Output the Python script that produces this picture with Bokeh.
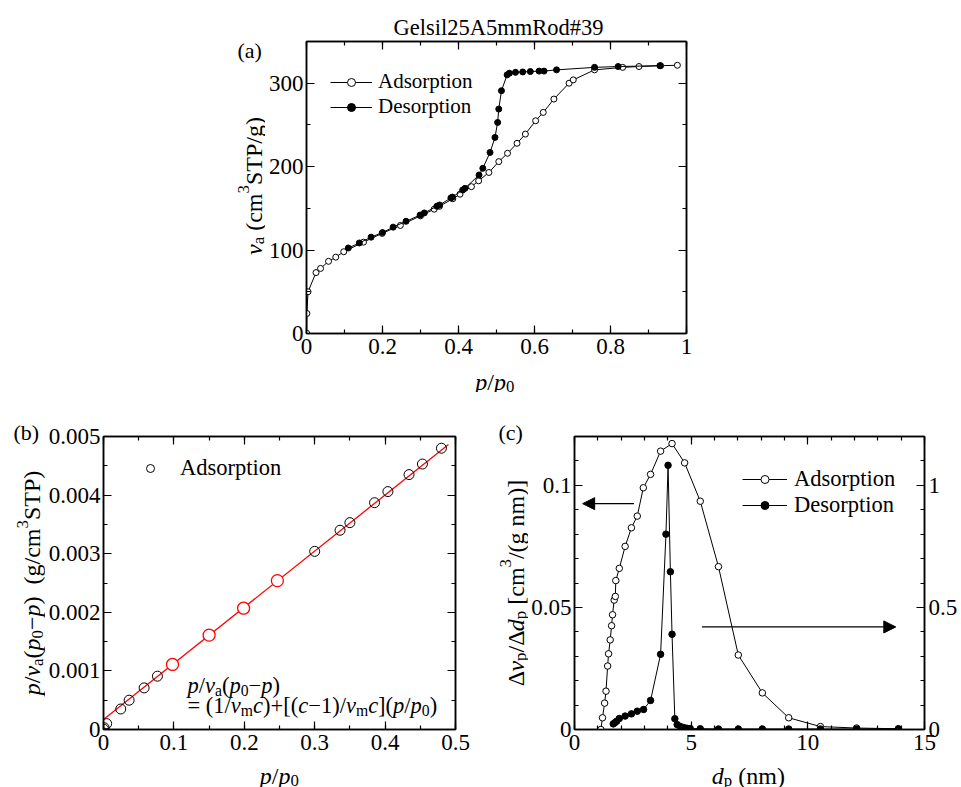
import numpy as np
from math import pi
from bokeh.plotting import figure
from bokeh.models import (Range1d, LinearAxis, SingleIntervalTicker, CustomJSTickFormatter,
                          Label, Legend, LegendItem, Arrow, NormalHead)
from bokeh.core.properties import value
from bokeh.layouts import column, row
from bokeh.embed import file_html
from bokeh.resources import INLINE

FONT = "Liberation Serif"

# ---------------- (a) isotherm ----------------
ads_a_x = [0.0002, 0.001, 0.004, 0.025, 0.037, 0.058, 0.077, 0.098, 0.15, 0.199, 0.247, 0.30,
           0.336, 0.35, 0.385, 0.404, 0.434, 0.453, 0.48, 0.506, 0.529, 0.554, 0.576, 0.603,
           0.623, 0.651, 0.691, 0.702, 0.758, 0.832, 0.875, 0.932, 0.976]
ads_a_y = [0.5, 24, 50, 73, 78, 86.5, 91.5, 98, 109.5, 120, 129.5, 141,
           149, 152.5, 161.5, 167, 176, 183, 193, 206, 216, 228, 239, 255,
           265, 281, 300, 304, 316, 319, 320, 321, 321.5]
des_a_x = [0.93, 0.82, 0.758, 0.658, 0.625, 0.612, 0.589, 0.569, 0.55, 0.534, 0.528, 0.513,
           0.506, 0.503, 0.496, 0.483, 0.464, 0.454, 0.417, 0.411, 0.384, 0.380, 0.35, 0.343,
           0.31, 0.299, 0.262, 0.228, 0.2, 0.17, 0.139, 0.11]
des_a_y = [321, 320, 319, 316, 314.5, 314.5, 314, 313.5, 313, 312, 310, 291,
           269, 253, 235, 217, 198, 190, 174, 172, 163.5, 162.5, 154, 152.5,
           144.5, 142, 134.5, 127.5, 121, 115.5, 108.5, 102.5]

# ---------------- (b) BET plot ----------------
bet_x = [0.0002, 0.001, 0.0045, 0.0245, 0.0364, 0.0577, 0.0766, 0.30, 0.336, 0.35, 0.385,
         0.404, 0.434, 0.453, 0.48]
bet_y = [0.000005, 0.00003, 0.0001, 0.00035, 0.0005, 0.00071, 0.00091, 0.00304, 0.0034,
         0.00353, 0.00387, 0.00406, 0.00435, 0.00453, 0.0048]
bet_fit_x = [0.098, 0.15, 0.199, 0.247]
bet_fit_y = [0.00111, 0.00161, 0.00207, 0.00254]
fit_line_range = [0.0, 0.49]

# ---------------- (c) pore size distribution ----------------
psd_ads_x = [1.13, 1.20, 1.29, 1.35, 1.42, 1.46, 1.53, 1.59, 1.63, 1.70, 1.75, 1.77, 1.92,
             2.17, 2.44, 2.69, 2.95, 3.26, 3.69, 4.18, 4.72, 5.39, 6.17, 7.02, 8.05, 9.18,
             10.54, 12.09, 13.88]
psd_ads_y = [0.0, 0.0048, 0.0108, 0.0157, 0.026, 0.031, 0.0367, 0.0425, 0.047, 0.053, 0.0545,
             0.061, 0.066, 0.075, 0.0826, 0.0874, 0.099, 0.1045, 0.114, 0.1171, 0.1092, 0.0935,
             0.0667, 0.0305, 0.015, 0.0048, 0.0012, 0.0006, 0.0003]
psd_des_x = [1.66, 1.73, 1.81, 1.92, 2.17, 2.44, 2.69, 2.96, 3.26, 3.69, 3.92, 4.01, 4.11,
             4.18, 4.30, 4.40, 4.54, 4.68, 4.82, 4.96, 5.39, 6.17, 7.02, 8.05, 9.18, 10.54,
             12.09, 13.88]
psd_des_y = [0.023, 0.028, 0.034, 0.045, 0.055, 0.064, 0.075, 0.082, 0.119, 0.308, 0.80, 1.082,
             0.646, 0.39, 0.044, 0.02, 0.012, 0.008, 0.005, 0.004, 0.003, 0.002, 0.002, 0.002,
             0.002, 0.002, 0.002, 0.002]
arrow_left = dict(x_start=2.55, y_start=0.0925, x_end=0.35, y_end=0.0925)
arrow_right = dict(x_start=5.46, y_start=0.042, x_end=13.77, y_end=0.042)

# ---------------- text helpers ----------------
NW = {' ': 250, '(': 333, ')': 333, '[': 333, ']': 333, '/': 278, '+': 564, '=': 564,
      '−': 564, '.': 250, 'a': 444, 'c': 444, 'd': 500, 'g': 500, 'm': 778, 'n': 500,
      'p': 500, 'v': 500, 'S': 556, 'T': 611, 'P': 556, 'Δ': 612}
IW = {'p': 500, 'v': 444, 'c': 444, 'd': 500, 'a': 500}


def text_w(s, italic):
    tbl = IW if italic else NW
    return sum(tbl.get(ch, NW.get(ch, 500)) for ch in s) / 1000.0


def layout_pieces(pieces, size):
    specs, total = [], 0.0
    for t, st in pieces:
        small = st in ('sub', 'sup')
        fs = size * 0.7 if small else size
        italic = st == 'i'
        shift = -0.2 * size if st == 'sub' else (0.42 * size if st == 'sup' else 0.0)
        specs.append((t, fs, italic, shift, total))
        total += text_w(t, italic) * fs
    return specs, total


def place(pieces, x, y, size, vertical, center):
    specs, total = layout_pieces(pieces, size)
    off = -total / 2.0 if center else 0.0
    out = []
    for t, fs, italic, shift, pos in specs:
        if t.strip() == '':
            continue
        if vertical:
            out.append((t, fs, italic, x - shift, y + off + pos))
        else:
            out.append((t, fs, italic, x + off + pos, y + shift))
    return out


def rich_label(fig, pieces, x, y, size, vertical=False, center=False):
    # annotations inside a plot frame (screen units relative to the frame)
    for t, fs, italic, lx, ly in place(pieces, x, y, size, vertical, center):
        fig.add_layout(Label(x=lx, y=ly, x_units='screen', y_units='screen', text=t,
                             text_font=FONT, text_font_size=f"{fs:.1f}px",
                             text_font_style='italic' if italic else 'normal',
                             text_color='black', text_align='left',
                             text_baseline='alphabetic', angle=pi / 2 if vertical else 0))


def rich_text(fig, pieces, x, y, size, vertical=False, center=False):
    # text glyphs in a pixel-scaled strip figure
    for t, fs, italic, lx, ly in place(pieces, x, y, size, vertical, center):
        fig.text(x=[lx], y=[ly], text=[t], text_font=value(FONT),
                 text_font_size=value(f"{fs:.1f}px"),
                 text_font_style=value('italic' if italic else 'normal'),
                 text_color='black', text_align='left', text_baseline='alphabetic',
                 angle=pi / 2 if vertical else 0)


def plain_text(fig, txt, x, y, size, align='left'):
    fig.text(x=[x], y=[y], text=[txt], text_font=value(FONT), text_font_size=value(size),
             text_color='black', text_align=align, text_baseline='alphabetic')


def no_align(p):
    try:
        p.frame_align = False
    except Exception:
        pass


def strip(w, h):
    s = figure(width=w, height=h, x_range=Range1d(0, w), y_range=Range1d(0, h),
               output_backend="svg", toolbar_location=None, min_border=0,
               min_border_left=0, min_border_right=0, min_border_top=0, min_border_bottom=0,
               x_axis_location=None, y_axis_location=None)
    no_align(s)
    s.title.visible = False
    s.title.standoff = 0
    s.xgrid.visible = False
    s.ygrid.visible = False
    s.outline_line_color = None
    s.background_fill_color = 'white'
    s.border_fill_color = 'white'
    return s


FMT_CODE = "return String(parseFloat(tick.toFixed(6)));"
TICK_FS = '23px'


def style_axis(ax, interval, minor, labels=True, standoff=3):
    ax.ticker = SingleIntervalTicker(interval=interval, num_minor_ticks=minor)
    ax.axis_line_color = 'black'
    ax.axis_line_width = 1.5
    ax.major_tick_in = 8
    ax.major_tick_out = 0
    ax.minor_tick_in = 4
    ax.minor_tick_out = 0
    ax.major_tick_line_color = 'black'
    ax.minor_tick_line_color = 'black'
    ax.major_tick_line_width = 1.2
    ax.minor_tick_line_width = 1.2
    ax.axis_label = None
    if labels:
        ax.formatter = CustomJSTickFormatter(code=FMT_CODE)
        ax.major_label_text_font = FONT
        ax.major_label_text_font_size = TICK_FS
        ax.major_label_text_color = 'black'
        ax.major_label_standoff = standoff
    else:
        ax.formatter = CustomJSTickFormatter(code="return '';")
        ax.major_label_text_font_size = '1px'
        ax.major_label_standoff = 0


def base_fig(w, h, xr, yr, bl, br, bt, bb):
    p = figure(width=w, height=h, x_range=Range1d(*xr), y_range=Range1d(*yr),
               output_backend="svg", toolbar_location=None,
               min_border_left=bl, min_border_right=br, min_border_top=bt, min_border_bottom=bb)
    no_align(p)
    p.title.visible = False
    p.xgrid.visible = False
    p.ygrid.visible = False
    p.outline_line_color = 'black'
    p.outline_line_width = 1.5
    p.background_fill_color = 'white'
    p.border_fill_color = 'white'
    return p


def legend(items, loc, gw, standoff, fs):
    return Legend(items=items, location=loc, glyph_width=gw, glyph_height=20, label_height=20,
                  label_standoff=standoff, spacing=0, padding=0, margin=0,
                  border_line_alpha=0, background_fill_alpha=0,
                  label_text_font=FONT, label_text_font_size=fs, label_text_color='black')


# ================= panel (a) =================
pa = base_fig(696, 329, (0, 1), (0, 350), 38, 275, 5, 32)
style_axis(pa.xaxis[0], 0.2, 2, standoff=5)
style_axis(pa.yaxis[0], 100, 2, standoff=3)
ax_t = LinearAxis(); style_axis(ax_t, 0.2, 2, labels=False); pa.add_layout(ax_t, 'above')
ax_r = LinearAxis(); style_axis(ax_r, 100, 2, labels=False); pa.add_layout(ax_r, 'right')

la = pa.line(ads_a_x, ads_a_y, line_color='black', line_width=1)
sa = pa.scatter(ads_a_x, ads_a_y, marker='circle', size=6, fill_color='white',
                line_color='black', line_width=1)
ld = pa.line(des_a_x, des_a_y, line_color='black', line_width=1)
sd = pa.scatter(des_a_x, des_a_y, marker='circle', size=6, fill_color='black',
                line_color='black', line_width=1)
pa.add_layout(legend([LegendItem(label="Adsorption", renderers=[la, sa]),
                      LegendItem(label="Desorption", renderers=[ld, sd])],
                     (24, 214), 42, 6, '21px'))

lsa = strip(265, 392)
plain_text(lsa, "(a)", 237, 342, '22px')
rich_text(lsa, [('v', 'i'), ('a', 'sub'), (' ', 'n'), ('(cm', 'n'), ('3', 'sup'), ('STP/g)', 'n')],
          253.5, 206.5, 24, vertical=True, center=True)
title_strip = strip(696, 36)
plain_text(title_strip, "Gelsil25A5mmRod#39", 233, 9, '22.5px', align='center')
xla = strip(696, 27)
rich_text(xla, [('p', 'i'), ('/', 'n'), ('p', 'i'), ('0', 'sub')], 229.4, 11, 24, center=True)

top_block = row(lsa, column(title_strip, pa, xla))

# ================= panel (b) =================
pb = base_fig(435, 369, (0, 0.5), (0, 0.005), 58, 25, 44, 32)
style_axis(pb.xaxis[0], 0.1, 2, standoff=5)
style_axis(pb.yaxis[0], 0.001, 2, standoff=3)
bx_t = LinearAxis(); style_axis(bx_t, 0.1, 2, labels=False); pb.add_layout(bx_t, 'above')
bx_r = LinearAxis(); style_axis(bx_r, 0.001, 2, labels=False); pb.add_layout(bx_r, 'right')

slope, intercept = np.polyfit(bet_fit_x, bet_fit_y, 1)
fx = np.array(fit_line_range)
pb.line(fx, intercept + slope * fx, line_color='red', line_width=1.3)
sb = pb.scatter(bet_x, bet_y, marker='circle', size=10, fill_color=None,
                line_color='black', line_width=1)
pb.scatter(bet_fit_x, bet_fit_y, marker='circle', size=12, fill_color='white',
           line_color='red', line_width=1.3)
pb.add_layout(legend([LegendItem(label="Adsorption", renderers=[sb])], (37, 248), 20, 20, '22.5px'))

rich_label(pb, [('p', 'i'), ('/', 'n'), ('v', 'i'), ('a', 'sub'), ('(', 'n'), ('p', 'i'),
                ('0', 'sub'), ('−', 'n'), ('p', 'i'), (')', 'n')], 84, 44, 22.5)
rich_label(pb, [('=', 'n'), (' ', 'n'), ('(1/', 'n'), ('v', 'i'), ('m', 'sub'), ('c', 'i'),
                (')+[(', 'n'), ('c', 'i'), ('−1)/', 'n'), ('v', 'i'), ('m', 'sub'), ('c', 'i'),
                ('](', 'n'), ('p', 'i'), ('/', 'n'), ('p', 'i'), ('0', 'sub'), (')', 'n')],
           84, 24, 22.5)

lsb = strip(45, 395)
plain_text(lsb, "(b)", 13, 355, '22px')
rich_text(lsb, [('p', 'i'), ('/', 'n'), ('v', 'i'), ('a', 'sub'), ('(', 'n'), ('p', 'i'),
                ('0', 'sub'), ('−', 'n'), ('p', 'i'), (')', 'n'), ('  ', 'n'), ('(g/cm', 'n'),
                ('3', 'sup'), ('STP)', 'n')], 31.7, 204.5, 24, vertical=True, center=True)
xlb = strip(435, 26)
rich_text(xlb, [('p', 'i'), ('/', 'n'), ('p', 'i'), ('0', 'sub')], 233.9, 11.5, 24, center=True)

b_block = row(lsb, column(pb, xlb))

# ================= panel (c) =================
pc = base_fig(433, 369, (0, 15), (0, 0.12), 44, 37, 44, 32)
pc.extra_y_ranges = {"right": Range1d(0, 1.2)}
style_axis(pc.xaxis[0], 5, 5, standoff=5)
style_axis(pc.yaxis[0], 0.05, 5, standoff=3)
cx_t = LinearAxis(); style_axis(cx_t, 5, 5, labels=False); pc.add_layout(cx_t, 'above')
cy_r = LinearAxis(y_range_name="right"); style_axis(cy_r, 0.5, 5, standoff=4)
pc.add_layout(cy_r, 'right')

lca = pc.line(psd_ads_x, psd_ads_y, line_color='black', line_width=1)
sca = pc.scatter(psd_ads_x, psd_ads_y, marker='circle', size=6.5, fill_color='white',
                 line_color='black', line_width=1)
lcd = pc.line(psd_des_x, psd_des_y, line_color='black', line_width=1, y_range_name="right")
scd = pc.scatter(psd_des_x, psd_des_y, marker='circle', size=6.5, fill_color='black',
                 line_color='black', line_width=1, y_range_name="right")
pc.add_layout(legend([LegendItem(label="Adsorption", renderers=[lca, sca]),
                      LegendItem(label="Desorption", renderers=[lcd, scd])],
                     (168, 211), 45, 7, '22.5px'))

for a in (arrow_left, arrow_right):
    pc.add_layout(Arrow(end=NormalHead(size=12, fill_color='black', line_color='black'),
                        line_color='black', line_width=1.3, **a))

lsc = strip(48, 395)
plain_text(lsc, "(c)", 18, 355, '22px')
rich_text(lsc, [('Δ', 'n'), ('v', 'i'), ('p', 'sub'), ('/Δ', 'n'), ('d', 'i'), ('p', 'sub'),
                (' ', 'n'), ('[cm', 'n'), ('3', 'sup'), ('/(g nm)]', 'n')],
          35.5, 204.5, 24, vertical=True, center=True)
xlc = strip(433, 26)
rich_text(xlc, [('d', 'i'), ('p', 'sub'), (' ', 'n'), ('(nm)', 'n')], 219.9, 11.5, 24, center=True)

c_block = row(lsc, column(pc, xlc))

layout = column(top_block, row(b_block, c_block))
open("out.html", "w").write(file_html(layout, INLINE))
